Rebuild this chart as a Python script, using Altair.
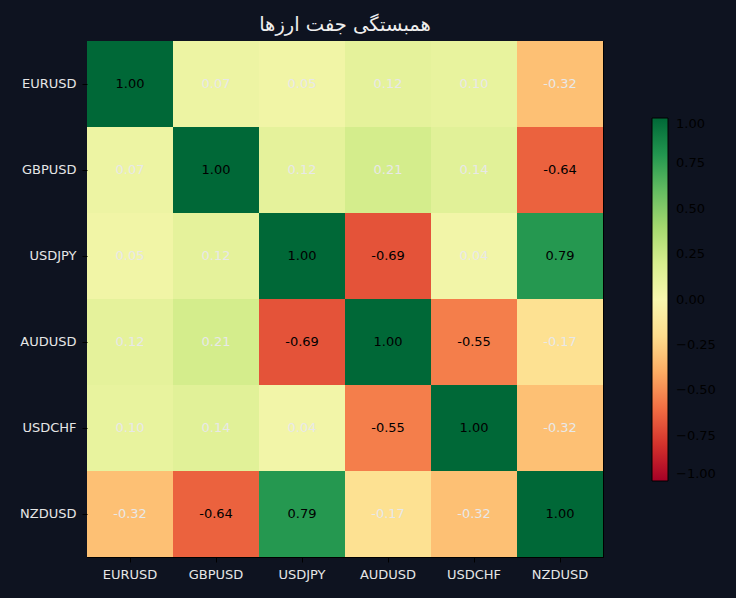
import altair as alt
import pandas as pd

# Currency pairs and their pairwise correlation matrix
pairs = ["EURUSD", "GBPUSD", "USDJPY", "AUDUSD", "USDCHF", "NZDUSD"]
corr_eurusd = [1.00, 0.07, 0.05, 0.12, 0.10, -0.32]
corr_gbpusd = [0.07, 1.00, 0.12, 0.21, 0.14, -0.64]
corr_usdjpy = [0.05, 0.12, 1.00, -0.69, 0.04, 0.79]
corr_audusd = [0.12, 0.21, -0.69, 1.00, -0.55, -0.17]
corr_usdchf = [0.10, 0.14, 0.04, -0.55, 1.00, -0.32]
corr_nzdusd = [-0.32, -0.64, 0.79, -0.17, -0.32, 1.00]
colorbar_ticks = [-1.0, -0.75, -0.5, -0.25, 0.0, 0.25, 0.5, 0.75, 1.0]
title_text = "همبستگی جفت ارزها"

rows = [corr_eurusd, corr_gbpusd, corr_usdjpy, corr_audusd, corr_usdchf, corr_nzdusd]
records = []
for row_name, values in zip(pairs, rows):
    for col_name, v in zip(pairs, values):
        records.append({"row": row_name, "col": col_name, "value": v})
df = pd.DataFrame(records)

BG = "#0e1320"
FONT = "DejaVu Sans"

x_enc = alt.X("col:N", sort=pairs, title=None,
              axis=alt.Axis(labelAngle=0, labelColor="#e6e6e6", labelFontSize=13,
                            labelFont=FONT, tickColor="#000000", tickSize=5,
                            labelPadding=6, domain=False, grid=False))
y_enc = alt.Y("row:N", sort=pairs, title=None,
              axis=alt.Axis(labelColor="#e6e6e6", labelFontSize=13, labelFont=FONT,
                            tickColor="#000000", tickSize=5, labelPadding=6,
                            domain=False, grid=False))

cells = alt.Chart(df).mark_rect().encode(
    x=x_enc,
    y=y_enc,
    color=alt.Color(
        "value:Q",
        scale=alt.Scale(scheme="redyellowgreen", domain=[-1, 1]),
        legend=alt.Legend(
            title=None,
            orient="none",
            legendX=565,
            legendY=77,
            direction="vertical",
            gradientLength=363,
            gradientThickness=16,
            gradientStrokeColor="#000000",
            gradientStrokeWidth=1,
            values=colorbar_ticks,
            labelExpr="replace(format(datum.value, '.2f'), '-', '\u2212')",
            labelColor="#000000",
            labelFontSize=13,
            labelFont=FONT,
            labelOffset=8,
            labelOverlap=False,
            labelBaseline="middle",
        ),
    ),
)

labels = alt.Chart(df).transform_calculate(
    label="replace(format(datum.value, '.2f'), '\u2212', '-')"
).mark_text(fontSize=13, font=FONT).encode(
    x=alt.X("col:N", sort=pairs),
    y=alt.Y("row:N", sort=pairs),
    text="label:N",
    color=alt.condition(
        "abs(datum.value) > 0.5",
        alt.value("#000000"),
        alt.value("#e8e8e8"),
    ),
)

# Whole-pixel cell size (86 px per cell) keeps the cell edges crisp
chart = (
    alt.layer(cells, labels)
    .properties(
        width=516,
        height=516,
        background=BG,
        padding={"left": 87, "top": 41, "right": 133, "bottom": 41},
        autosize=alt.AutoSizeParams(type="none"),
        title=alt.TitleParams(
            title_text, color="#eeeeee", fontSize=19.5, font=FONT,
            fontWeight="normal", anchor="middle", offset=6,
        ),
    )
    .configure_view(stroke="#000000", strokeWidth=1)
    .configure_scale(bandPaddingInner=0, bandPaddingOuter=0)
)

chart.save("out.html", embed_options={"renderer": "svg", "actions": False})
